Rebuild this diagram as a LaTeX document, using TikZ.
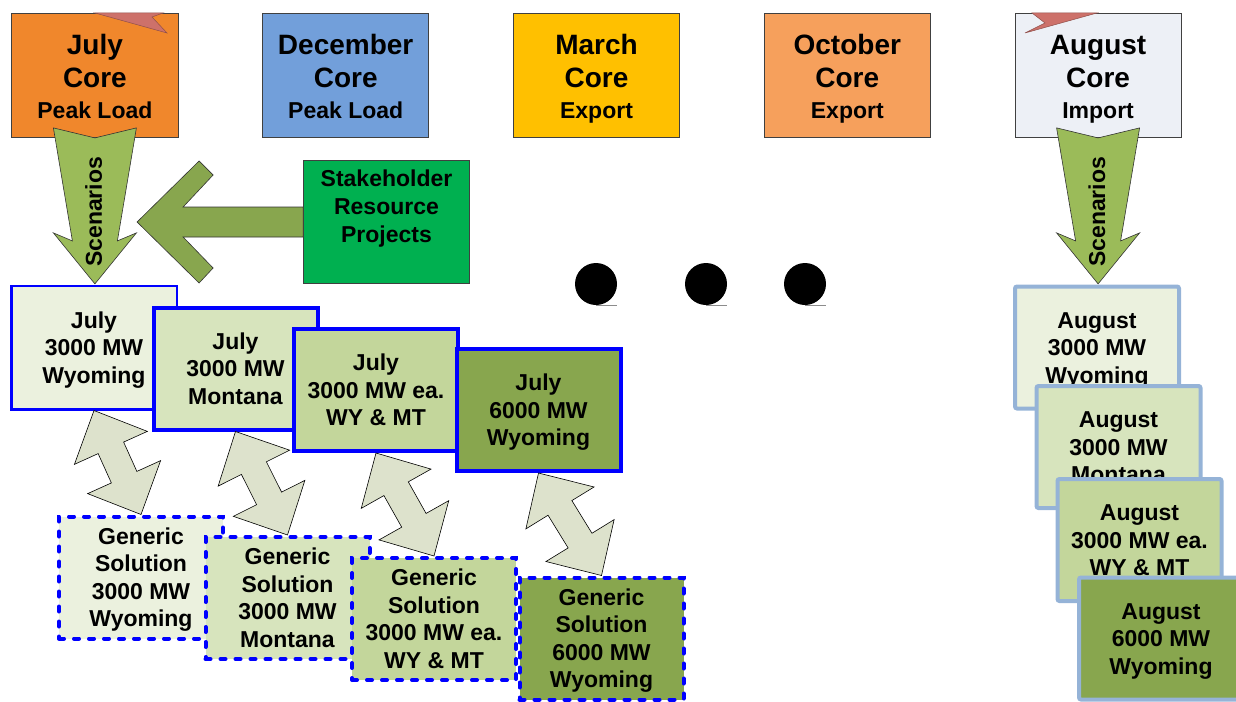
\documentclass[tikz,border=0pt]{standalone}
\usepackage{fontspec}
\setmainfont{Liberation Sans}
\usetikzlibrary{calc}
\definecolor{julyorange}{HTML}{F0872C}
\definecolor{decblue}{HTML}{729FDA}
\definecolor{margold}{HTML}{FFC000}
\definecolor{octorange}{HTML}{F6A05C}
\definecolor{augwhite}{HTML}{EDF0F6}
\definecolor{flagred}{HTML}{CD716A}
\definecolor{scengreen}{HTML}{9BBB59}
\definecolor{mwolive}{HTML}{88A64E}
\definecolor{stakegreen}{HTML}{00B050}
\definecolor{tintA}{HTML}{EBF1DE}
\definecolor{tintB}{HTML}{D7E4BD}
\definecolor{tintC}{HTML}{C3D69B}
\definecolor{twowaygray}{HTML}{DDE2CC}
\definecolor{augframe}{HTML}{95B3D7}
\tikzset{
    ampersand replacement=\&,
    x=1pt, y=-1pt,
    box/.style={align=center, inner sep=0pt, anchor=center, text height=74pt, text depth=3pt,
        font=\bfseries\fontsize{23}{27.5}\selectfont},
    core/.style={box, draw=black!75, line width=0.8pt, minimum width=166pt, minimum height=124pt,
        text height=88pt, text depth=3pt, font=\bfseries\fontsize{28}{33}\selectfont},
    case/.style={box, draw=blue, line width=4pt, minimum width=164pt, minimum height=122pt},
    thincase/.style={case, line width=2.5pt, minimum width=165.5pt, minimum height=123.5pt},
    generic/.style={case, dash pattern=on 5pt off 10pt, line cap=round, text height=101.5pt},
    augcase/.style={case, draw=augframe, rounded corners=2pt},
    scen/.style={draw=black!80, line width=0.6pt, fill=scengreen},
    twoway/.style={draw=black, line width=0.6pt, fill=twowaygray},
    flag/.style={draw=flagred!70!black, line width=0.5pt, fill=flagred},
    dot/.style={circle, fill=black, minimum size=42pt, inner sep=0pt},
}
\newcommand{\subline}[1]{{\fontsize{23}{27}\selectfont #1}}
\newcommand{\twoway}[2]{%
    \draw[twoway] (#1)
        -- ($(#1)!57.3pt!44.3:(#2)$) -- ($(#1)!43.3pt!18.85:(#2)$)
        -- ($(#2)!43.3pt!-18.85:(#1)$) -- ($(#2)!57.3pt!-44.3:(#1)$)
        -- (#2)
        -- ($(#2)!57.3pt!44.3:(#1)$) -- ($(#2)!43.3pt!18.85:(#1)$)
        -- ($(#1)!43.3pt!-18.85:(#2)$) -- ($(#1)!57.3pt!-44.3:(#2)$)
        -- cycle;}
\newcommand{\scenarios}[1]{%
    \begin{scope}[shift={(#1.south)}]
        \draw[scen] (-41.5,-10) -- (0,0) -- (41.5,-10) -- (22.5,103) -- (41.5,95)
            -- (0,146) -- (-41.5,95) -- (-22.5,103) -- cycle;
        \node[box, rotate=90, text height=19pt] (#1-scen) at (-1,74) {Scenarios};
    \end{scope}}

\begin{document}
\begin{tikzpicture}
    \useasboundingbox (0,0) rectangle (1236,701);
    \clip (0,0) rectangle (1236,701);

    \matrix[column sep=84pt] at (596.5,75.5) {
        \node[core, fill=julyorange] (jul) {July\\Core\\[-2pt]\subline{Peak Load}}; \&
        \node[core, fill=decblue] (dec) {December\\Core\\[-2pt]\subline{Peak Load}}; \&
        \node[core, fill=margold] (mar) {March\\Core\\[-2pt]\subline{Export}}; \&
        \node[core, fill=octorange] (oct) {October\\Core\\[-2pt]\subline{Export}}; \&
        \node[core, fill=augwhite] (aug) {August\\Core\\[-2pt]\subline{Import}}; \\
    };
    \draw[flag] (95,13) -- (163,13) -- (152,17) -- (167,33) -- cycle;
    \draw[flag] (1032,13) -- (1097,13) -- (1025,33) -- (1045,23) -- cycle;

    \node[thincase, fill=tintA] (ja) at (94,347.5) {July\\3000 MW\\Wyoming};
    \node[case, fill=tintB] (jb) at (235.5,368.5) {July\\3000 MW\\Montana};
    \node[case, fill=tintC] (jc) at (376,390) {July\\3000 MW ea.\\WY \& MT};
    \node[case, fill=mwolive] (jd) at (538.5,410) {July\\6000 MW\\Wyoming};

    \node[generic, fill=tintA] (ga) at (141,577.5) {Generic\\Solution\\3000 MW\\Wyoming};
    \node[generic, fill=tintB] (gb) at (287.5,598) {Generic\\Solution\\3000 MW\\Montana};
    \node[generic, fill=tintC] (gc) at (434,619) {Generic\\Solution\\3000 MW ea.\\WY \& MT};
    \node[generic, fill=mwolive] (gd) at (601.5,638.5) {Generic\\Solution\\6000 MW\\Wyoming};

    \twoway{ja.south}{ga.north}
    \twoway{jb.south}{gb.north}
    \twoway{jc.south}{gc.north}
    \twoway{jd.south}{gd.north}

    \scenarios{jul}

    \node[box, draw=black!75, line width=0.8pt, fill=stakegreen, minimum width=166pt,
        minimum height=123pt, text height=75pt, text depth=35pt,
        font=\bfseries\fontsize{23}{28}\selectfont]
        (stake) at (386.5,222) {Stakeholder\\Resource\\Projects};
    \begin{scope}[shift={(stake.west)}]
        \draw[draw=black!80, line width=0.6pt, fill=mwolive] (-166,0) -- (-104,-61) -- (-90,-47)
            -- (-120,-15) -- (0,-15) -- (0,15) -- (-120,15) -- (-90,46) -- (-104,61) -- cycle;
    \end{scope}

    \foreach \x/\n in {596/1,706/2,805/3} {
        \node[dot] (dot\n) at (\x,284) {};
        \draw[black!45, line width=0.8pt] (dot\n.south) -- ++(21,0);
    }

    \node[augcase, fill=tintA] (aa) at (1097,347.5) {August\\3000 MW\\Wyoming};
    \node[augcase, fill=tintB] (ab) at (1118.5,447) {August\\3000 MW\\Montana};
    \node[augcase, fill=tintC] (ac) at (1139.5,540) {August\\3000 MW ea.\\WY \& MT};
    \node[augcase, fill=mwolive] (ad) at (1161,638.5) {August\\6000 MW\\Wyoming};

    \scenarios{aug}
\end{tikzpicture}
\end{document}
